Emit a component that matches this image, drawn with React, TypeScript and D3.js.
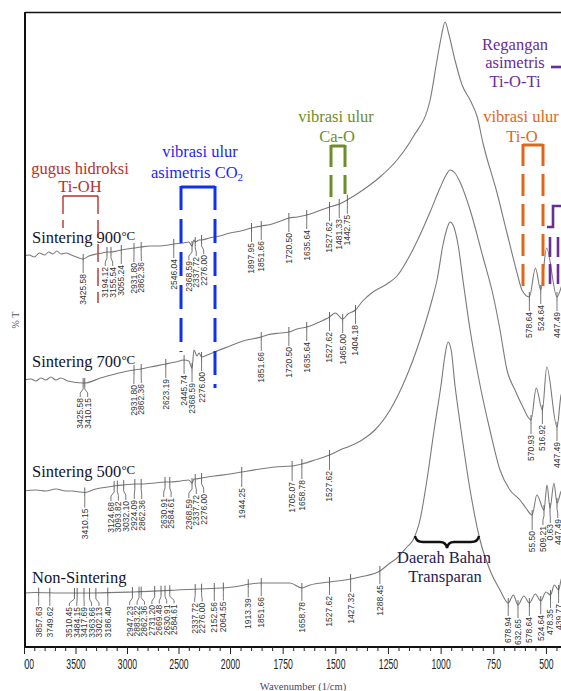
import React, { useEffect, useRef } from "react";
import * as d3 from "d3";

const width = 561;
const height = 691;

// spectra: [wavenumber (1/cm), %T offset]
const sinter900: [number, number][] = [
  [4000, 78.2], [3950, 78.4], [3900, 78.0], [3850, 78.8], [3800, 78.4], [3760, 79.0], [3720, 78.6],
  [3680, 79.2], [3640, 78.6], [3590, 78.8], [3540, 78.4], [3490, 78.0], [3425.58, 77.6], [3370, 78.2],
  [3300, 78.6], [3240, 78.8], [3194.12, 79.0], [3155.54, 79.0], [3100, 79.2], [3055.24, 79.4],
  [3000, 79.6], [2931.8, 79.8], [2862.36, 80.0], [2780, 80.2], [2680, 80.2], [2600, 80.4],
  [2546.04, 80.6], [2450, 80.8], [2400, 81.0], [2368.59, 80.2], [2350, 81.4], [2337.72, 81.0],
  [2300, 81.4], [2276, 81.4], [2200, 81.8], [2100, 82.2], [2000, 82.8], [1950, 83.2], [1897.95, 83.8],
  [1851.66, 84.2], [1800, 84.6], [1760, 85.2], [1720.5, 85.8], [1680, 86.0], [1635.64, 86.4],
  [1580, 87.2], [1527.62, 88.0], [1481.33, 88.6], [1444, 89.4], [1369, 91.4], [1288, 94.0],
  [1207, 97.4], [1131, 102], [1050, 109.4], [1017, 117.4], [998, 121.8], [979, 125], [960, 122.4],
  [932, 117.4], [898, 112.4], [860, 109.4], [826, 106], [799, 100.8], [732, 90.8], [685, 82.8],
  [637, 74.8], [614, 71.4], [578.64, 70], [550, 75.8], [524.64, 71.4], [497, 79.8], [447.49, 70],
  [420, 72.8], [400, 74],
];

const sinter700: [number, number][] = [
  [4000, 53.4], [3932, 53.6], [3884, 53.2], [3836, 53.8], [3787, 53.4], [3739, 54.0], [3691, 53.4],
  [3642, 53.8], [3575, 53.2], [3425.58, 52.8], [3410.15, 52.8], [3256, 53.8], [3034, 55.0],
  [2931.8, 55.4], [2862.36, 55.6], [2773, 56.0], [2623.19, 56.6], [2530, 57.0], [2445.74, 57.4],
  [2400, 57.2], [2368.59, 55.8], [2350, 59.4], [2320, 58.2], [2300, 58.8], [2276, 58.0], [2220, 58.4],
  [2150, 59.0], [2000, 60.2], [1938, 61.2], [1896, 61.6], [1851.66, 62.0], [1824, 62.4], [1762, 62.8],
  [1720.5, 63.0], [1682, 63.6], [1635.64, 64.0], [1587, 64.8], [1527.62, 66.0], [1500, 66.8],
  [1465.0, 65.6], [1440, 66.6], [1404.18, 67.4], [1370, 69.2], [1321, 71.0], [1255, 72.6],
  [1207, 74.2], [1145, 78.4], [1098, 82.4], [1050, 87.0], [1003, 91.8], [974, 94.4], [955, 95.4],
  [932, 94.8], [908, 93.0], [860, 87.4], [799, 78.0], [751, 70.4], [718, 63.4], [685, 55.4],
  [647, 51.4], [614, 48.4], [570.93, 45.4], [546, 51.8], [516.92, 47.4], [496, 56.0], [447.49, 44.0],
  [428, 50.4], [400, 52.4],
];

const sinter500: [number, number][] = [
  [4000, 31.2], [3884, 31.4], [3787, 31.2], [3691, 31.6], [3594, 31.2], [3536, 31.2], [3410.15, 30.9],
  [3304, 31.6], [3188, 32.0], [3124.68, 32.2], [3093.82, 32.3], [3032.1, 32.4], [2924.09, 32.6],
  [2862.36, 32.6], [2725, 32.8], [2630.91, 33.0], [2584.61, 33.0], [2480, 33.2], [2400, 33.4],
  [2368.59, 32.8], [2350, 33.6], [2337.72, 33.6], [2276, 33.8], [2150, 34.2], [2000, 34.6],
  [1944.25, 35.0], [1858, 35.6], [1787, 36.0], [1705.07, 36.2], [1658.78, 36.6], [1597, 37.4],
  [1527.62, 38.4], [1478, 39.4], [1430, 40.2], [1373, 41.4], [1312, 43.4], [1240, 47.4],
  [1169, 53.4], [1098, 61.4], [1041, 69.4], [1017, 73.4], [989, 80.4], [969, 83.8], [955, 85.0],
  [941, 84.4], [917, 80.4], [894, 73.4], [860, 63.4], [813, 52.4], [766, 43.4], [718, 35.4],
  [671, 31.4], [623, 29.4], [595, 27.8], [565.5, 26.4], [543, 30.4], [509.21, 27.4], [495, 32.4],
  [480.63, 27.8], [462, 32.8], [447.49, 28.8], [424, 31.4], [400, 30.4],
];

const nonSinter: [number, number][] = [
  [4000, 10.8], [3900, 10.9], [3642, 10.8], [3324, 10.8], [2937, 11.0], [2512, 11.4], [1986, 12.0],
  [1905, 12.6], [1858, 12.8], [1715, 12.8], [1658.78, 11.8], [1620, 12.4], [1527.62, 13.0],
  [1427.32, 13.6], [1383, 14.0], [1288.45, 15.2], [1240, 16.8], [1207, 17.8], [1160, 20.0],
  [1131, 21.4], [1098, 25.4], [1065, 33.4], [1031, 43.4], [998, 52.4], [979, 58.4], [965, 61.0],
  [950, 59.4], [932, 52.4], [903, 43.4], [860, 31.4], [813, 21.4], [766, 15.4], [718, 11.4],
  [678.94, 8.8], [655, 10.4], [632.65, 8.4], [605, 10.2], [578.64, 8.8], [550, 10.6], [524.64, 9.2],
  [500, 11.0], [478.35, 10.4], [460, 12.4], [439.77, 11.4], [425, 13.8], [400, 12.4],
];

// labelled peaks
const peaks900 = [3425.58, 3194.12, 3155.54, 3055.24, 2931.8, 2862.36, 2546.04, 2368.59, 2337.72, 2276.0,
  1897.95, 1851.66, 1720.5, 1635.64, 1527.62, 1481.33, 1442.75, 578.64, 524.64, 447.49];
const peaks700 = [3425.58, 3410.15, 2931.8, 2862.36, 2623.19, 2445.74, 2368.59, 2276.0, 1851.66, 1720.5,
  1635.64, 1527.62, 1465.0, 1404.18, 570.93, 516.92, 447.49];
const peaks500 = [3410.15, 3124.68, 3093.82, 3032.1, 2924.09, 2862.36, 2630.91, 2584.61, 2368.59, 2337.72,
  2276.0, 1944.25, 1705.07, 1658.78, 1527.62, 565.5, 509.21, 480.63, 447.49];
const peaksNon = [3857.63, 3749.62, 3510.45, 3484.15, 3417.69, 3363.66, 3302.13, 3186.4, 2947.23, 2883.22,
  2862.36, 2731.2, 2669.48, 2630.91, 2584.61, 2337.72, 2276.0, 2152.56, 2064.55, 1913.39, 1851.66,
  1658.78, 1527.62, 1427.32, 1288.45, 678.94, 632.65, 578.64, 524.64, 478.35, 439.77];
// labels partly hidden in the figure
const cutLabels: Record<string, string> = { "565.5": "55.50", "480.63": "0.63" };

const axisTicks = [4000, 3500, 3000, 2500, 2000, 1750, 1500, 1250, 1000, 750, 500];

const x = d3.scaleLinear().domain([4000, 2000, 400]).range([24, 230, 567]);
const y = d3.scaleLinear().domain([0, 127]).range([647, 12]);

const spectra = [
  { name: "Sintering 900", pts: sinter900, peaks: peaks900, off: 14, ty: 243 },
  { name: "Sintering 700", pts: sinter700, peaks: peaks700, off: 14, ty: 367 },
  { name: "Sintering 500", pts: sinter500, peaks: peaks500, off: 15, ty: 477 },
  { name: "Non-Sintering", pts: nonSinter, peaks: peaksNon, off: 13, ty: 583 },
];

const line = d3.line<[number, number]>()
  .x(d => x(d[0]))
  .y(d => y(d[1]))
  .curve(d3.curveMonotoneX);

function yAt(pts: [number, number][], w: number) {
  const arr = pts.map(p => [x(p[0]), y(p[1])]).sort((a, b) => a[0] - b[0]);
  const px = x(w);
  for (let i = 0; i < arr.length - 1; i++) {
    if (px >= arr[i][0] && px <= arr[i + 1][0]) {
      const t = (px - arr[i][0]) / (arr[i + 1][0] - arr[i][0] || 1);
      return arr[i][1] + t * (arr[i + 1][1] - arr[i][1]);
    }
  }
  return arr[arr.length - 1][1];
}

function spread(xs: number[], gap: number) {
  const p = xs.slice();
  for (let it = 0; it < 80; it++) {
    for (let i = 1; i < p.length; i++) {
      const d = p[i] - p[i - 1];
      if (d < gap) {
        const m = (gap - d) / 2;
        p[i - 1] -= m;
        p[i] += m;
      }
    }
  }
  return p;
}

const fmt = (w: number) => cutLabels[String(w)] || w.toFixed(2);

function Spectrum({ s }: { s: typeof spectra[number] }) {
  const sorted = s.peaks.slice().sort((a, b) => b - a);
  const tx = sorted.map(w => x(w));
  const lx = spread(tx, 7.4);
  return (
    <g>
      <path d={line(s.pts) || ""} fill="none" stroke="#7a7a7a" strokeWidth={1.1} />
      {sorted.map((w, i) => {
        const cy = yAt(s.pts, w);
        const top = cy + s.off;
        const p0 = tx[i];
        const p1 = lx[i];
        return (
          <g key={i}>
            <line x1={p0} x2={p0} y1={cy - 5} y2={cy + 4} stroke="#555" strokeWidth={0.9} />
            <path d={`M${p0},${cy + 4}L${p0},${cy + 6}L${p1},${cy + 10}L${p1},${top}`} fill="none" stroke="#555" strokeWidth={0.8} />
            <text transform={`translate(${p1},${top + 1}) rotate(-90)`} textAnchor="end" dy="0.35em"
              fontFamily="'Liberation Sans', Arial, sans-serif" fontSize={8.5} fill="#333">{fmt(w)}</text>
          </g>
        );
      })}
    </g>
  );
}

const serif = "'Liberation Serif', 'Times New Roman', serif";

export default function App() {
  const axisRef = useRef<SVGGElement>(null);

  useEffect(() => {
    const g = d3.select(axisRef.current);
    g.selectAll("*").remove();
    const major = d3.axisBottom(x).tickValues(axisTicks).tickSize(7).tickSizeOuter(0).tickPadding(5)
      .tickFormat(d => String(d));
    g.call(major as any);
    g.select(".domain").remove();
    g.selectAll(".tick line").attr("stroke", "#222").attr("stroke-width", 1);
    g.selectAll(".tick text")
      .attr("font-family", "'Liberation Sans', Arial, sans-serif")
      .attr("font-size", 14)
      .attr("fill", "#222")
      .attr("transform", "scale(0.62,1)");
    const minorVals = d3.range(4000, 2000, -100).concat(d3.range(2000, 399, -50)).filter(v => !axisTicks.includes(v));
    const minor = d3.axisBottom(x).tickValues(minorVals).tickSize(4).tickSizeOuter(0).tickFormat(() => "");
    const mg = g.append("g").call(minor as any);
    mg.select(".domain").remove();
    mg.selectAll(".tick line").attr("stroke", "#222").attr("stroke-width", 1);
  }, []);

  return (
    <svg width={width} height={height} style={{ position: "absolute", left: 0, top: 0, background: "#fff" }}>
      <defs>
        <clipPath id="axclip"><rect x={24} y={640} width={540} height={50} /></clipPath>
      </defs>
      <rect width={width} height={height} fill="#fff" />

      {spectra.map((s, i) => <Spectrum key={i} s={s} />)}

      {/* frame */}
      <line x1={25} x2={561} y1={12.5} y2={12.5} stroke="#111" strokeWidth={1.5} />
      <line x1={25} x2={25} y1={12} y2={648} stroke="#111" strokeWidth={2} />
      <line x1={24} x2={561} y1={647} y2={647} stroke="#111" strokeWidth={2} />
      <g clipPath="url(#axclip)"><g ref={axisRef} transform="translate(0,647)" /></g>

      <text x={303} y={690} textAnchor="middle" fontFamily={serif} fontSize={10.5} fill="#4b3f6b">Wavenumber (1/cm)</text>
      <text transform="translate(19,320) rotate(-90)" textAnchor="middle" fontFamily={serif} fontSize={10} fill="#5b4b6b">% T</text>

      {/* spectrum names */}
      {spectra.map((s, i) => (
        <text key={i} x={32} y={s.ty} fontFamily={serif} fontSize={16.5} fill="#14142a">
          {s.name}
          {s.name.startsWith("Sintering") ? <tspan fontSize={13} dy={-3}>°C</tspan> : null}
        </text>
      ))}

      {/* gugus hidroksi */}
      <g fill="#b5322e" fontFamily={serif} fontSize={16.5} textAnchor="middle">
        <text x={80} y={174}>gugus hidroksi</text>
        <text x={80} y={192}>Ti-OH</text>
      </g>
      <g stroke="#b5322e" strokeWidth={1.4} fill="none">
        <line x1={63} x2={98} y1={196} y2={196} />
        <line x1={63} x2={63} y1={196} y2={228} strokeDasharray="18,6" />
        <line x1={98} x2={98} y1={196} y2={303} strokeDasharray="18,6" />
      </g>

      {/* CO2 */}
      <g fill="#1f1ff5" fontFamily={serif} fontSize={16.5} textAnchor="middle">
        <text x={200} y={157}>vibrasi ulur</text>
        <text x={197} y={178}>asimetris CO<tspan fontSize={11} dy={3}>2</tspan></text>
      </g>
      <g stroke="#1030f0" strokeWidth={3} fill="none">
        <line x1={181} x2={215} y1={187} y2={187} />
        <line x1={181} x2={181} y1={186} y2={352} strokeDasharray="24,9" />
        <line x1={215} x2={215} y1={186} y2={388} strokeDasharray="24,9" />
      </g>

      {/* Ca-O */}
      <g fill="#6f8c2a" fontFamily={serif} fontSize={16.5} textAnchor="middle">
        <text x={336} y={122}>vibrasi ulur</text>
        <text x={337} y={142}>Ca-O</text>
      </g>
      <g stroke="#6f8c2a" strokeWidth={3} fill="none">
        <line x1={331} x2={345} y1={146} y2={146} />
        <line x1={331} x2={331} y1={145} y2={198} strokeDasharray="22,8" />
        <line x1={345} x2={345} y1={145} y2={194} strokeDasharray="22,8" />
      </g>

      {/* Ti-O */}
      <g fill="#e2661a" fontFamily={serif} fontSize={16.5} textAnchor="middle">
        <text x={521} y={122}>vibrasi ulur</text>
        <text x={522} y={142}>Ti-O</text>
      </g>
      <g stroke="#e2661a" strokeWidth={3} fill="none">
        <line x1={523} x2={543} y1={145} y2={145} />
        <line x1={523} x2={523} y1={144} y2={286} strokeDasharray="22,8" />
        <line x1={543} x2={543} y1={144} y2={286} strokeDasharray="22,8" />
      </g>

      {/* Ti-O-Ti */}
      <g fill="#6a2c9a" fontFamily={serif} fontSize={16.5} textAnchor="middle">
        <text x={515} y={50}>Regangan</text>
        <text x={515} y={68}>asimetris</text>
        <text x={515} y={87}>Ti-O-Ti</text>
      </g>
      <g stroke="#6a2c9a" strokeWidth={2.6} fill="none">
        <line x1={551} x2={561} y1={67} y2={67} />
        <path d="M561,206 L553,206 L553,227 L547,227" />
        <line x1={550} x2={550} y1={237} y2={290} strokeDasharray="20,7" />
        <line x1={558} x2={558} y1={237} y2={290} strokeDasharray="20,7" />
      </g>

      {/* Daerah Bahan Transparan */}
      <path d="M415,536 Q416,542 423,542 L440,542 Q446,542 447,548 Q448,542 454,542 L471,542 Q478,542 479,536"
        fill="none" stroke="#111" strokeWidth={2.5} />
      <g fill="#1c1c55" fontFamily={serif} fontSize={16.5} textAnchor="middle">
        <text x={444} y={563}>Daerah Bahan</text>
        <text x={445} y={582}>Transparan</text>
      </g>
    </svg>
  );
}
